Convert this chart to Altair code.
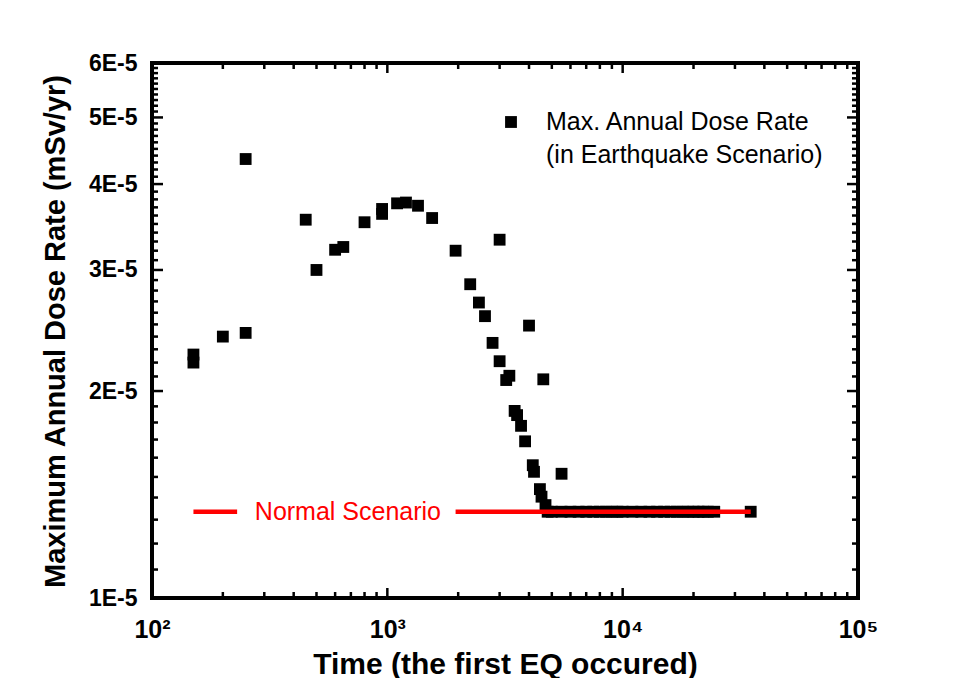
import altair as alt
import pandas as pd

# ---------------- data ----------------
time_eq = [150, 150, 200, 250, 250, 450, 500, 600, 650, 800, 950, 950,
           1100, 1200, 1350, 1550, 1950, 2250, 2450, 2600, 3000, 2800,
           4000, 3000, 3300, 3200, 4600, 3475, 3560, 3700, 3850, 4150,
           4200, 5500, 4450, 4520, 4700,
           4800, 5000, 5500, 6000, 6500, 7000, 7500, 8000, 8500, 9000,
           9500, 10000, 11000, 12000, 13000, 14000, 15000, 16000, 17000,
           18000, 19000, 20000, 21000, 22000, 23000, 24500, 35000]
dose_eq = [2.26e-5, 2.20e-5, 2.40e-5, 2.43e-5, 4.35e-5, 3.55e-5, 3.00e-5,
           3.21e-5, 3.24e-5, 3.52e-5, 3.62e-5, 3.68e-5,
           3.75e-5, 3.76e-5, 3.72e-5, 3.57e-5, 3.20e-5, 2.86e-5, 2.69e-5,
           2.57e-5, 3.32e-5, 2.35e-5,
           2.49e-5, 2.21e-5, 2.105e-5, 2.075e-5, 2.08e-5, 1.871e-5, 1.845e-5,
           1.78e-5, 1.69e-5, 1.56e-5,
           1.526e-5, 1.516e-5, 1.44e-5, 1.404e-5, 1.365e-5,
           1.335e-5, 1.335e-5, 1.335e-5, 1.335e-5, 1.335e-5, 1.335e-5,
           1.335e-5, 1.335e-5, 1.335e-5, 1.335e-5,
           1.335e-5, 1.335e-5, 1.335e-5, 1.335e-5, 1.335e-5, 1.335e-5,
           1.335e-5, 1.335e-5, 1.335e-5,
           1.335e-5, 1.335e-5, 1.335e-5, 1.335e-5, 1.335e-5, 1.335e-5,
           1.335e-5, 1.335e-5]

normal_x_start = [150, 1950]
normal_x_end = [230, 35000]
normal_dose = [1.335e-5, 1.335e-5]
normal_label = ["Normal Scenario"]
normal_label_x = [680]
normal_label_y = [1.335e-5]

legend_lines = ["Max. Annual Dose Rate", "(in Earthquake Scenario)"]

x_major = [100, 1000, 10000, 100000]
x_tick_labels = ["10\u00b2", "10\u00b3", "10\u2074", "10\u2075"]
x_minor = [m * d for d in (100, 1000, 10000) for m in range(2, 10)]
y_major = [1e-5, 2e-5, 3e-5, 4e-5, 5e-5, 6e-5]
y_minor = [k * 1e-6 for k in range(11, 60) if k % 10]

# ---------------- chart ----------------
W, H = 706, 535
FONT = "Liberation Sans"

df_eq = pd.DataFrame({"time": time_eq, "dose": dose_eq})
df_norm = pd.DataFrame({"time": normal_x_start, "x2": normal_x_end, "dose": normal_dose})
df_lab = pd.DataFrame({"time": normal_label_x, "dose": normal_label_y, "t": normal_label})

xscale = alt.Scale(type="log", domain=[100, 100000], nice=False)
yscale = alt.Scale(type="log", domain=[1e-5, 6e-5], nice=False)

x_label_expr = " : ".join(
    f"datum.value == {v} ? '{t}'" for v, t in zip(x_major[:-1], x_tick_labels[:-1])
) + f" : '{x_tick_labels[-1]}'"

x_axis = alt.Axis(
    values=x_major, labelExpr=x_label_expr, ticks=False, domain=False, grid=False,
    labelFlush=False, labelFont=FONT, labelFontSize=25, labelFontWeight="bold",
    labelColor="black", labelPadding=39, labelBaseline="alphabetic",
    title="Time (the first EQ occured)", titleFont=FONT, titleFontSize=30,
    titleFontWeight="bold", titleColor="black", titleX=353, titleY=75,
    titleBaseline="alphabetic",
)
y_axis = alt.Axis(
    values=y_major, labelExpr="round(datum.value * 100000) + 'E-5'", ticks=False,
    domain=False, grid=False, labelFlush=False, labelFont=FONT, labelFontSize=23,
    labelFontWeight="bold", labelColor="black", labelPadding=15,
    labelBaseline="middle",
    title="Maximum Annual Dose Rate (mSv/yr)", titleFont=FONT, titleFontSize=29,
    titleFontWeight="bold", titleColor="black", titleX=-88, titleY=268,
    titleBaseline="alphabetic",
)

X = lambda f: alt.X(f, scale=xscale, axis=x_axis)
Y = lambda f: alt.Y(f, scale=yscale, axis=y_axis)

points = alt.Chart(df_eq).mark_square(size=140, color="black", opacity=1).encode(
    x=X("time:Q"), y=Y("dose:Q"),
)

tick_w = 2.5
def xticks(vals, length):
    d = pd.DataFrame({"time": vals})
    bottom = alt.Chart(d).mark_rule(color="black", strokeWidth=tick_w).encode(
        x=X("time:Q"), y=alt.value(H), y2=alt.value(H - length))
    top = alt.Chart(d).mark_rule(color="black", strokeWidth=tick_w).encode(
        x=X("time:Q"), y=alt.value(0), y2=alt.value(length))
    return [bottom, top]

def yticks(vals, length):
    d = pd.DataFrame({"dose": vals})
    left = alt.Chart(d).mark_rule(color="black", strokeWidth=tick_w).encode(
        y=Y("dose:Q"), x=alt.value(0), x2=alt.value(length))
    right = alt.Chart(d).mark_rule(color="black", strokeWidth=tick_w).encode(
        y=Y("dose:Q"), x=alt.value(W), x2=alt.value(W - length))
    return [left, right]

tick_layers = xticks(x_minor, 6) + xticks(x_major, 10) + yticks(y_minor, 6) + yticks(y_major, 11)

normal_line = alt.Chart(df_norm).mark_rule(color="#ff0000", strokeWidth=4.5).encode(
    x=X("time:Q"), x2="x2:Q", y=Y("dose:Q"),
)
normal_text = alt.Chart(df_lab).mark_text(
    font=FONT, fontSize=25, color="#ff0000", align="center", baseline="middle"
).encode(
    x=X("time:Q"), y=Y("dose:Q"), text="t:N",
)

legend_sym = alt.Chart(pd.DataFrame({"k": [0]})).mark_square(
    size=140, color="black", opacity=1
).encode(x=alt.value(359), y=alt.value(59))
legend_txt = alt.Chart(pd.DataFrame({"k": [0]})).mark_text(
    text=legend_lines, font=FONT, fontSize=25, color="black", align="left",
    baseline="top", lineHeight=33
).encode(x=alt.value(394), y=alt.value(47))

chart = alt.layer(points, *tick_layers, normal_line, normal_text, legend_sym, legend_txt).properties(
    width=W, height=H,
    autosize=alt.AutoSizeParams(type="none"),
    padding={"left": 144, "top": 55, "right": 90, "bottom": 80},
    background="white",
).configure_view(stroke="black", strokeWidth=4)

chart.save("out.html", embed_options={"renderer": "svg", "actions": False})
